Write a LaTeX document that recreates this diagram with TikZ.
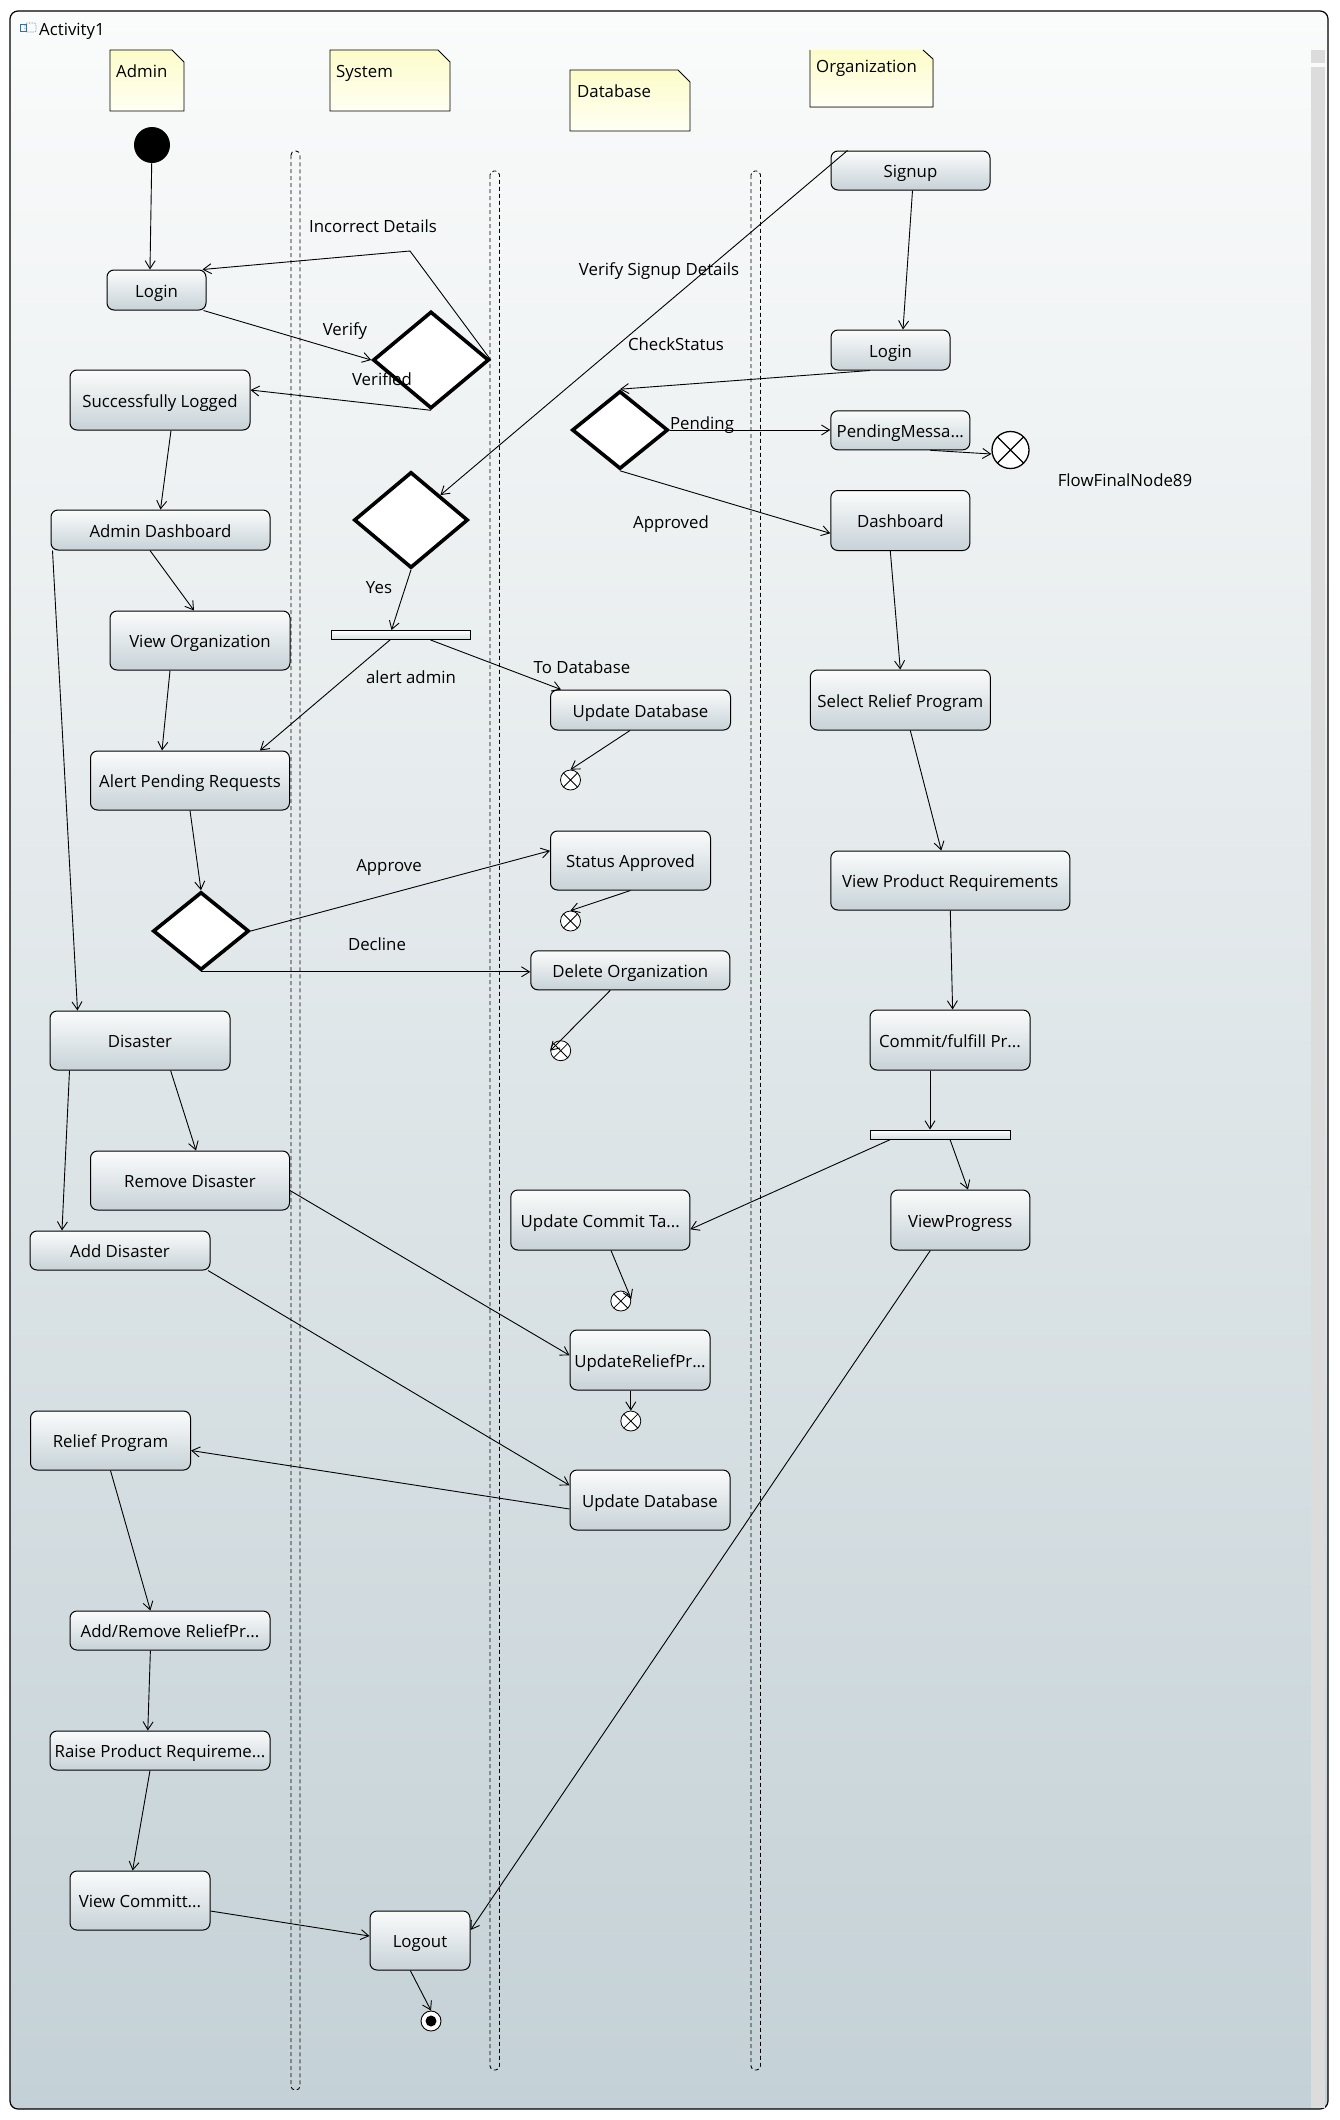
\documentclass[tikz,border=0pt]{standalone}
\usepackage{fontspec}
\setmainfont{Open Sans}
\usetikzlibrary{shapes.geometric,arrows.meta}

\definecolor{bgtop}{HTML}{FAFBFB}
\definecolor{bgbot}{HTML}{C4D1D6}
\definecolor{boxtop}{HTML}{FBFCFC}
\definecolor{boxbot}{HTML}{C7D2D7}
\definecolor{notetop}{HTML}{FCFCC9}
\definecolor{notebot}{HTML}{FFFFF4}
\definecolor{barbot}{HTML}{D3DCDF}
\definecolor{scrollc}{HTML}{DCDCDC}
\definecolor{iconblue}{HTML}{3A6EA5}

\newcommand\uifont{\fontsize{16.8}{20}\selectfont}

\tikzset{
  act/.style={rectangle, draw=black, line width=1pt, rounded corners=7pt,
    top color=boxtop, bottom color=boxbot, inner sep=1pt, font=\uifont,
    text height=14.5pt, text depth=0pt},
  decision/.style={diamond, draw=black, line width=3.6pt, fill=white, inner sep=0pt},
  forkbar/.style={rectangle, draw=black, line width=0.9pt, top color=white,
    bottom color=barbot, inner sep=0pt, minimum width=139pt, minimum height=9pt},
  flowend/.style={circle, draw=black, line width=#1, fill=white, inner sep=0pt,
    minimum size=20pt, path picture={\draw[black, line width=#1]
      (path picture bounding box.north west) -- (path picture bounding box.south east)
      (path picture bounding box.north east) -- (path picture bounding box.south west);}},
  flowend/.default=0.8pt,
  flow/.style={draw=black, line width=0.9pt, -{Straight Barb[length=8pt,width=10pt]}},
  lbl/.style={font=\uifont, inner sep=0pt},
  lane/.style={draw=black, line width=0.9pt, dash pattern=on 4pt off 3pt, rounded corners=4pt},
  notebox/.style={draw=black, line width=0.9pt, top color=notetop, bottom color=notebot},
}

\begin{document}
\begin{tikzpicture}[x=1pt,y=-1pt]
\useasboundingbox (0,0) rectangle (1339,2120);
\fill[white] (0,0) rectangle (1339,2120);

% activity frame
\path[top color=bgtop, bottom color=bgbot, draw=black, line width=1.2pt, rounded corners=8pt]
  (10,11) rectangle (1328,2109);
\fill[scrollc] (1311,50) rectangle (1325,63);
\fill[scrollc] (1311,67) rectangle (1325,2108);

% title with its icon
\draw[iconblue, line width=0.6pt] (20,24) rectangle (26,31);
\draw[iconblue, line width=0.6pt, densely dotted, rounded corners=2pt] (25,23) rectangle (36,32);
\node[lbl, anchor=base west] (title) at (39,35) {Activity1};

% partition separators
\draw[lane] (291,151) rectangle (300,2090);
\draw[lane] (490,171) rectangle (499.5,2070);
\draw[lane] (751,171) rectangle (760.5,2070);

% partition notes
\path[notebox] (110,50) -- (172,50) -- (184,62) -- (184,111) -- (110,111) -- cycle;
\node[lbl, anchor=base west] (tadmin) at (116,77) {Admin};
\path[notebox] (330,50) -- (438,50) -- (450,62) -- (450,111) -- (330,111) -- cycle;
\node[lbl, anchor=base west] (tsystem) at (336,77) {System};
\path[notebox] (570,70) -- (678,70) -- (690,82) -- (690,131) -- (570,131) -- cycle;
\node[lbl, anchor=base west] (tdb) at (577,97) {Database};
\fill[top color=notetop, bottom color=notebot] (810,50) -- (923,50) -- (933,59) -- (933,107) -- (810,107) -- cycle;
\draw[line width=0.9pt] (923,50) -- (933,59) -- (933,107) -- (810,107) -- (810,50);
\node[lbl, anchor=base west] (torg) at (816,72) {Organization};

% ---------- Admin ----------
\node[circle, fill=black, minimum size=36pt, inner sep=0pt] (init) at (152,145) {};
\node[act, minimum width=99pt, minimum height=40pt] (login1) at (156.5,290) {Login};
\node[act, minimum width=180pt, minimum height=60pt] (succ) at (160,400) {Successfully Logged};
\node[act, minimum width=219pt, minimum height=40pt] (adash) at (160.5,530) {Admin Dashboard};
\node[act, minimum width=180pt, minimum height=59pt] (vorg) at (200,640.5) {View Organization};
\node[act, minimum width=199pt, minimum height=59pt] (alert) at (190,780.5) {Alert Pending Requests};
\node[decision, minimum width=96pt, minimum height=78pt] (dadm) at (201,931) {};
\node[act, minimum width=180pt, minimum height=59pt] (disaster) at (140,1040.5) {Disaster};
\node[act, minimum width=199pt, minimum height=59pt] (remdis) at (190,1180.5) {Remove Disaster};
\node[act, minimum width=180pt, minimum height=39pt] (adddis) at (120,1250.5) {Add Disaster};
\node[act, minimum width=160pt, minimum height=59pt] (relief) at (110.5,1440.5) {Relief Program};
\node[act, minimum width=200pt, minimum height=39pt] (addrem) at (170,1630.5) {Add/Remove ReliefPr...};
\node[act, minimum width=220pt, minimum height=39pt] (raise) at (160,1750.5) {Raise Product Requireme...};
\node[act, minimum width=140pt, minimum height=59pt] (viewcom) at (140,1900.5) {View Committ...};

% ---------- System ----------
\node[decision, minimum width=116pt, minimum height=97pt] (d1) at (431,360) {};
\node[decision, minimum width=114pt, minimum height=96pt] (d2) at (411,520) {};
\node[forkbar] (fork1) at (400.5,635) {};
\node[act, minimum width=100pt, minimum height=59pt] (logout) at (420,1940.5) {Logout};
\node[circle, draw=black, fill=white, line width=0.9pt, minimum size=20pt, inner sep=0pt,
  path picture={\fill[black] (path picture bounding box.center) circle (5.5pt);}] (endn) at (431,2021) {};

% ---------- Database ----------
\node[decision, minimum width=96pt, minimum height=78pt] (d3) at (620,430) {};
\node[act, minimum width=180pt, minimum height=40pt] (upd1) at (640.5,710) {Update Database};
\node[flowend] (ff1) at (570.5,780) {};
\node[act, minimum width=160pt, minimum height=59pt] (stapp) at (630.5,860.5) {Status Approved};
\node[flowend] (ff2) at (570.5,921) {};
\node[act, minimum width=199pt, minimum height=39pt] (delorg) at (630.3,970.3) {Delete Organization};
\node[flowend] (ff3) at (560.7,1050.7) {};
\node[act, minimum width=179pt, minimum height=60pt] (updcom) at (600.3,1220) {Update Commit Ta...};
\node[flowend] (ff4) at (620.8,1301) {};
\node[act, minimum width=140pt, minimum height=60pt] (updrel) at (640,1360) {UpdateReliefPr...};
\node[flowend] (ff5) at (630.8,1421) {};
\node[act, minimum width=160pt, minimum height=60pt] (upd2) at (650,1500) {Update Database};

% ---------- Organization ----------
\node[act, minimum width=159pt, minimum height=39pt] (signup) at (910.5,170.5) {Signup};
\node[act, minimum width=119pt, minimum height=40pt] (login2) at (890.5,350) {Login};
\node[act, minimum width=139pt, minimum height=39pt] (pend) at (900.3,430.3) {PendingMessa...};
\node[flowend=1.3pt, minimum size=37pt] (ffbig) at (1010.5,450) {};
\node[lbl] (ffname) at (1125,480) {FlowFinalNode89};
\node[act, minimum width=139pt, minimum height=60pt] (dash) at (900.3,520.5) {Dashboard};
\node[act, minimum width=180pt, minimum height=60pt] (srp) at (900.3,700) {Select Relief Program};
\node[act, minimum width=239pt, minimum height=59pt] (vpr) at (950.3,880.5) {View Product Requirements};
\node[act, minimum width=160pt, minimum height=60pt] (commit) at (950,1040) {Commit/fulfill Pr...};
\node[forkbar, minimum width=140pt] (fork2) at (940,1134.5) {};
\node[act, minimum width=139pt, minimum height=60pt] (vprog) at (960.3,1220) {ViewProgress};

% ---------- flows ----------
\coordinate (bendA) at (410,251);
\draw[flow] (init) -- ([xshift=-6.5pt]login1.north);
\draw[flow] (d1.east) -- (bendA) -- ([xshift=-4pt]login1.north east);
\draw[flow] ([xshift=-3pt]login1.south east) -- (d1.west);
\draw[flow] (d1.south) -- ([yshift=10pt]succ.east);
\draw[flow] ([xshift=11pt]succ.south) -- (adash.north);
\draw[flow] ([xshift=-10.5pt]adash.south) -- ([xshift=-6pt]vorg.north);
\draw[flow] ([xshift=2pt]adash.south west) -- ([xshift=28pt]disaster.north west);
\draw[flow] ([xshift=-30pt]vorg.south) -- ([xshift=-28pt]alert.north);
\draw[flow] ([xshift=17pt]signup.north west) -- (d2.north east);
\draw[flow] (d2.south) -- ([xshift=-9pt]fork1.north);
\draw[flow] ([xshift=-10.5pt]fork1.south) -- ([xshift=-30pt]alert.north east);
\draw[flow] ([xshift=30pt]fork1.south) -- ([xshift=11pt]upd1.north west);
\draw[flow] ([xshift=-10.5pt]upd1.south) -- (ff1.north);
\draw[flow] (alert.south) -- (dadm.north);
\draw[flow] (dadm.east) -- ([yshift=9.8pt]stapp.west);
\draw[flow] (dadm.south) -- (dadm.south -| delorg.west);
\draw[flow] (stapp.south) -- (ff2.north);
\draw[flow] ([xshift=-20pt]delorg.south) -- (ff3.west);
\draw[flow] ([xshift=30.6pt]disaster.south) -- ([xshift=6pt]remdis.north);
\draw[flow] ([xshift=20pt]disaster.south west) -- ([xshift=32.5pt]adddis.north west);
\draw[flow] ([yshift=-10pt]remdis.east) -- ([yshift=4.7pt]updrel.west);
\draw[flow] ([xshift=-2.5pt]adddis.south east) -- ([yshift=14.7pt]upd2.west);
\draw[flow] ([yshift=-9pt]upd2.west) -- ([yshift=-10pt]relief.east);
\draw[flow] (relief.south) -- ([xshift=-19.6pt]addrem.north);
\draw[flow] ([xshift=-19.6pt]addrem.south) -- ([xshift=-12.2pt]raise.north);
\draw[flow] ([xshift=-10pt]raise.south) -- ([xshift=-7.4pt]viewcom.north);
\draw[flow] ([yshift=-10.5pt]viewcom.east) -- ([yshift=4.5pt]logout.west);
\draw[flow] ([xshift=-30pt]vprog.south) -- ([yshift=10.5pt]logout.east);
\draw[flow] ([xshift=-9.7pt]logout.south) -- (endn.north);
\draw[flow] ([xshift=2pt]signup.south) -- ([xshift=12.5pt]login2.north);
\draw[flow] ([xshift=-20.5pt]login2.south) -- (d3.north);
\draw[flow] (d3.east) -- (d3.east -| pend.west);
\draw[flow] (d3.south) -- ([yshift=-12.8pt]dash.west);
\draw[flow] ([xshift=30pt]pend.south) -- ([yshift=-4pt]ffbig.west);
\draw[flow] ([xshift=-10pt]dash.south) -- (srp.north);
\draw[flow] ([xshift=10pt]srp.south) -- ([xshift=-9pt]vpr.north);
\draw[flow] (vpr.south) -- ([xshift=2.6pt]commit.north);
\draw[flow] ([xshift=-20pt]commit.south) -- ([xshift=-10pt]fork2.north);
\draw[flow] ([xshift=-49.4pt]fork2.south) -- ([yshift=-9.3pt]updcom.east);
\draw[flow] ([xshift=10pt]fork2.south) -- ([xshift=7.7pt]vprog.north);
\draw[flow] ([xshift=10.7pt]updcom.south) -- ([yshift=2pt]ff4.east);
\draw[flow] ([xshift=-9.2pt]updrel.south) -- (ff5.north);

% ---------- flow labels ----------
\node[lbl] (lincorrect) at (373,226) {Incorrect Details};
\node[lbl] (lverify) at (345,331) {Verify};
\node[lbl] (lverified) at (382,379) {Verified};
\node[lbl] (lsignup) at (659,271) {Verify Signup Details};
\node[lbl] (lcheck) at (676,344) {CheckStatus};
\node[lbl] (lpending) at (702,425) {Pending};
\node[lbl] (lapproved) at (671,524) {Approved};
\node[lbl] (lyes) at (379,588) {Yes};
\node[lbl] (lalert) at (411,677) {alert admin};
\node[lbl] (ltodb) at (582,667) {To Database};
\node[lbl] (lapprove) at (389,867) {Approve};
\node[lbl] (ldecline) at (377,944) {Decline};
\end{tikzpicture}
\end{document}
